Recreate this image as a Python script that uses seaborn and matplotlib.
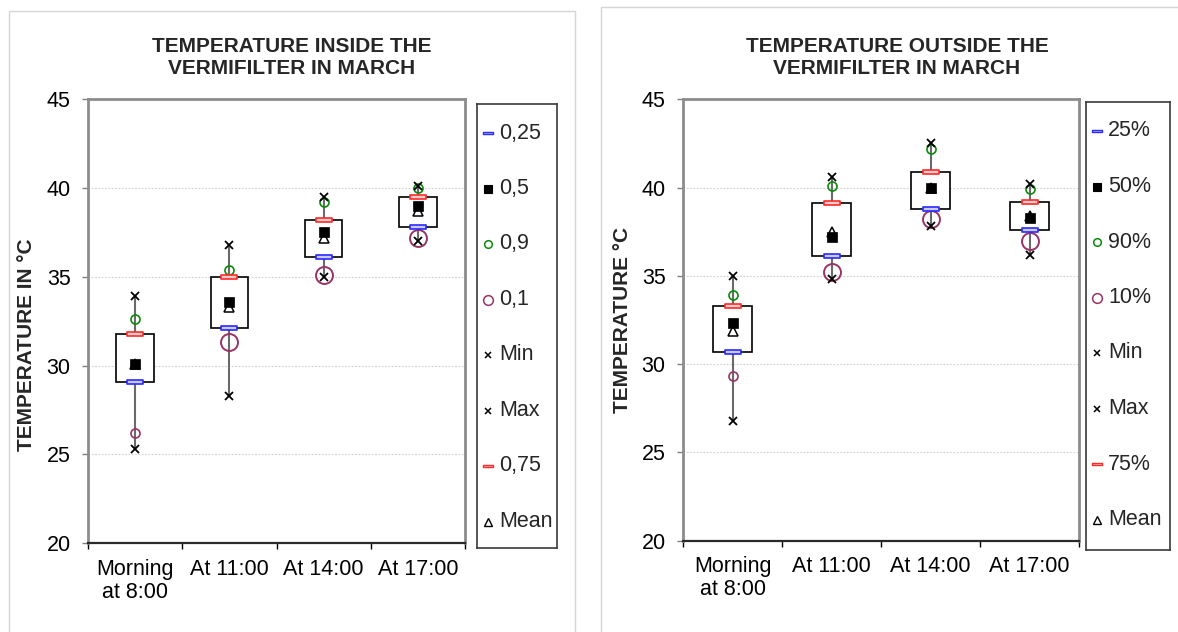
import numpy as np
import pandas as pd
import seaborn as sns
import matplotlib
matplotlib.use("Agg")
import matplotlib.pyplot as plt
from matplotlib.path import Path
from matplotlib.patches import Rectangle

sns.set_theme(style="white")
plt.rcParams["font.family"] = ["Liberation Sans", "DejaVu Sans"]

# ---- data -------------------------------------------------------------
categories = ["Morning\nat 8:00", "At 11:00", "At 14:00", "At 17:00"]

inside_min = [25.3, 28.3, 35.0, 37.0]
inside_p10 = [26.2, 31.3, 35.1, 37.2]
inside_q1 = [29.1, 32.1, 36.1, 37.8]
inside_median = [30.1, 33.6, 37.5, 39.0]
inside_mean = [30.1, 33.3, 37.2, 38.7]
inside_q3 = [31.8, 35.0, 38.2, 39.5]
inside_p90 = [32.6, 35.4, 39.2, 40.0]
inside_max = [33.9, 36.8, 39.5, 40.1]

outside_min = [26.8, 34.8, 37.8, 36.2]
outside_p10 = [29.3, 35.2, 38.2, 37.0]
outside_q1 = [30.7, 36.1, 38.8, 37.6]
outside_median = [32.3, 37.2, 40.0, 38.3]
outside_mean = [31.9, 37.5, 40.0, 38.4]
outside_q3 = [33.3, 39.1, 40.9, 39.2]
outside_p90 = [33.9, 40.1, 42.2, 39.9]
outside_max = [35.0, 40.6, 42.5, 40.2]

inside_labels = ["0,25", "0,5", "0,9", "0,1", "Min", "Max", "0,75", "Mean"]
outside_labels = ["25%", "50%", "90%", "10%", "Min", "Max", "75%", "Mean"]

y_ticks = [20, 25, 30, 35, 40, 45]

# ---- styling ----------------------------------------------------------
W, H = 1178, 632
fig = plt.figure(figsize=(W / 100, H / 100), dpi=100)
fig.patch.set_facecolor("white")

TICK_FS = 15.5
TITLE_FS = 15
LABEL_FS = 15
LEGEND_FS = 15.5


def px_rect(x0, y0, x1, y1):
    return [x0 / W, 1 - y1 / H, (x1 - x0) / W, (y1 - y0) / H]


# quartile marker: a flat rectangle
bar_marker = Path([(-1, -0.22), (1, -0.22), (1, 0.22), (-1, 0.22), (-1, -0.22)],
                  [Path.MOVETO, Path.LINETO, Path.LINETO, Path.LINETO, Path.CLOSEPOLY])

BLUE_E, BLUE_F = "#2a2aff", "#c9c9ff"
RED_E, RED_F = "#ff2a2a", "#ffcaca"
GREEN = "#0a8a0a"
PURPLE = "#993366"
p10_sizes = [6.5, 12.2, 12.2, 12.2]

# legend entry styles in legend order: 25, 50, 90, 10, Min, Max, 75, Mean
legend_styles = [
    dict(marker=bar_marker, ms=7.5, mfc=BLUE_F, mec=BLUE_E, mew=1.0),
    dict(marker="s", ms=5.5, mfc="black", mec="black", mew=0.8),
    dict(marker="o", ms=5.5, mfc="none", mec=GREEN, mew=1.1),
    dict(marker="o", ms=7, mfc="none", mec=PURPLE, mew=1.1),
    dict(marker="x", ms=5, mfc="black", mec="black", mew=1.1),
    dict(marker="x", ms=5, mfc="black", mec="black", mew=1.1),
    dict(marker=bar_marker, ms=7.5, mfc=RED_F, mec=RED_E, mew=1.0),
    dict(marker="^", ms=5.5, mfc="white", mec="black", mew=1.0),
]


def points(ax, values, cats, marker, size, face, edge, ew, z):
    sns.pointplot(x=cats, y=values, order=categories, ax=ax, linestyle="none",
                  marker=marker, markersize=size, markerfacecolor=face,
                  markeredgecolor=edge, markeredgewidth=ew, color=edge,
                  errorbar=None, zorder=z)


def panel(ax_rect, leg_rect, title, title_x, ylabel, ylabel_x, ylabel_y,
          vmin, p10, q1, med, mean, q3, p90, vmax, labels):
    ax = fig.add_axes(ax_rect)
    ax.set_facecolor("white")

    # boxes with whiskers spanning min..max
    stats = [dict(med=m, q1=a, q3=b, whislo=lo, whishi=hi, fliers=[])
             for m, a, b, lo, hi in zip(med, q1, q3, vmin, vmax)]
    ax.bxp(stats, positions=range(len(categories)), widths=0.4,
           showcaps=False, showfliers=False, patch_artist=True,
           manage_ticks=False,
           boxprops=dict(facecolor="white", edgecolor="black", linewidth=1.2),
           whiskerprops=dict(color="#6a6a6a", linewidth=1.5),
           medianprops=dict(linewidth=0), zorder=2)

    points(ax, p90, categories, "o", 6.5, "none", GREEN, 1.2, 4)
    points(ax, [p10[0]], categories[:1], "o", p10_sizes[0], "none", PURPLE, 1.2, 4)
    points(ax, p10[1:], categories[1:], "o", p10_sizes[1], "none", PURPLE, 1.4, 4)
    points(ax, vmin, categories, "x", 6, "black", "black", 1.3, 5)
    points(ax, vmax, categories, "x", 6, "black", "black", 1.3, 5)
    points(ax, q1, categories, bar_marker, 12.2, BLUE_F, BLUE_E, 1.2, 6)
    points(ax, q3, categories, bar_marker, 12.2, RED_F, RED_E, 1.2, 6)
    points(ax, mean, categories, "^", 6.5, "white", "black", 1.1, 7)
    points(ax, med, categories, "s", 7, "black", "black", 0.5, 8)

    ax.set_xlim(-0.5, len(categories) - 0.5)
    ax.set_ylim(y_ticks[0], y_ticks[-1])
    ax.set_yticks(y_ticks)
    ax.set_yticklabels([str(t) for t in y_ticks], fontsize=TICK_FS, color="black")
    ax.set_xticks(range(len(categories)))
    ax.set_xticklabels(categories, fontsize=TICK_FS, color="black", linespacing=1.15)
    ax.set_xticks(np.arange(-0.5, len(categories)), minor=True)
    ax.tick_params(axis="x", which="major", length=0, pad=11)
    ax.tick_params(axis="x", which="minor", bottom=True, length=4, width=1.0,
                   color="black", direction="out")
    ax.tick_params(axis="y", left=True, length=4, width=1.0, color="#808080",
                   direction="out", pad=8.5)
    ax.set_xlabel("")
    ax.set_ylabel("")
    ax.grid(False)
    ax.yaxis.grid(True, linestyle=(0, (1.5, 1.5)), color="#cfcfcf", linewidth=0.8)
    ax.set_axisbelow(True)
    for side in ["left", "top", "right"]:
        ax.spines[side].set_color("#8c8c8c")
        ax.spines[side].set_linewidth(2.0)
    ax.spines["bottom"].set_color("#2a2a2a")
    ax.spines["bottom"].set_linewidth(1.6)
    for sp in ax.spines.values():
        sp.set_visible(True)
        sp.set_zorder(10)

    fig.text(title_x / W, 1 - 57 / H, title, ha="center", va="center",
             fontsize=TITLE_FS, fontweight="bold", linespacing=1.2)
    fig.text(ylabel_x / W, 1 - ylabel_y / H, ylabel, ha="center", va="center",
             rotation=90, fontsize=LABEL_FS, fontweight="bold")

    # legend box
    lax = fig.add_axes(leg_rect)
    lw_px = leg_rect[2] * W
    lh_px = leg_rect[3] * H
    lax.set_xlim(0, lw_px)
    lax.set_ylim(lh_px, 0)
    lax.set_xticks([])
    lax.set_yticks([])
    lax.set_facecolor("white")
    for sp in lax.spines.values():
        sp.set_color("#3a3a3a")
        sp.set_linewidth(1.2)
    for i, (lab, st) in enumerate(zip(labels, legend_styles)):
        yy = 29 + i * 55.5
        lax.plot([11], [yy], linestyle="none", marker=st["marker"],
                 markersize=st["ms"], markerfacecolor=st["mfc"],
                 markeredgecolor=st["mec"], markeredgewidth=st["mew"])
        lax.text(22, yy, lab, ha="left", va="center", fontsize=LEGEND_FS)
    return ax


# outer panel frames
fig.add_artist(Rectangle((9 / W, -0.1), (575 - 9) / W, 1.1 - 11 / H,
                         transform=fig.transFigure, fill=False,
                         edgecolor="#d6d6d6", linewidth=1.0))
fig.add_artist(Rectangle((601 / W, -0.1), 0.6, 1.1 - 7 / H,
                         transform=fig.transFigure, fill=False,
                         edgecolor="#d6d6d6", linewidth=1.0))

panel(px_rect(88, 99, 465, 543.3), px_rect(477, 104, 557, 548),
      "TEMPERATURE INSIDE THE\nVERMIFILTER IN MARCH", 292,
      "TEMPERATURE IN °C", 27, 345,
      inside_min, inside_p10, inside_q1, inside_median, inside_mean,
      inside_q3, inside_p90, inside_max, inside_labels)

panel(px_rect(683, 99.3, 1079, 540.6), px_rect(1086, 102, 1170, 550),
      "TEMPERATURE OUTSIDE THE\nVERMIFILTER IN MARCH", 897,
      "TEMPERATURE °C", 622, 320,
      outside_min, outside_p10, outside_q1, outside_median, outside_mean,
      outside_q3, outside_p90, outside_max, outside_labels)

fig.savefig("out.png", dpi=100, facecolor="white")
